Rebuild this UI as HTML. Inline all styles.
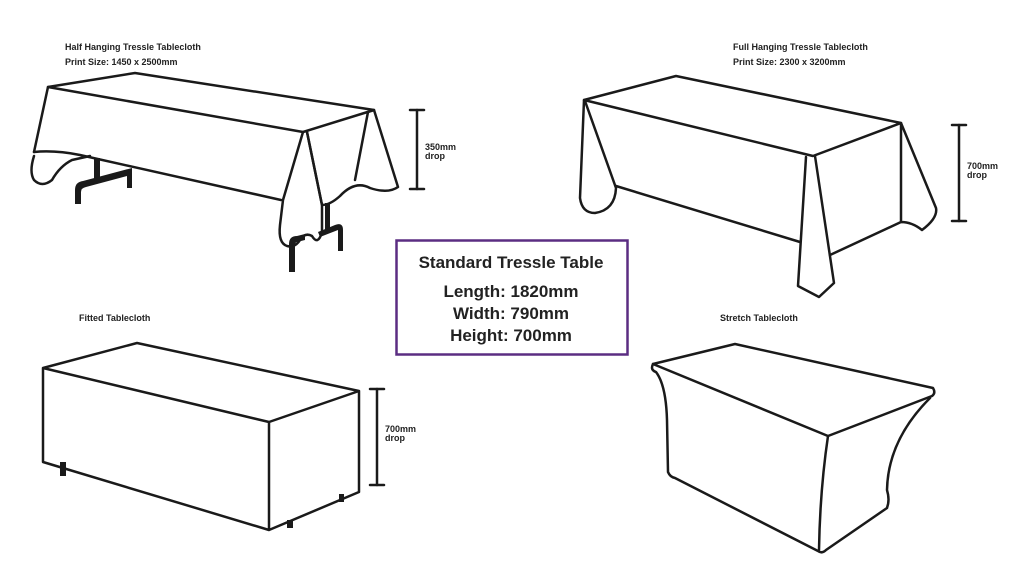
<!DOCTYPE html>
<html><head><meta charset="utf-8"><style>
html,body{margin:0;padding:0;background:#fff;}
svg{display:block;font-family:"Liberation Sans",Arial,sans-serif;}
</style></head><body>
<svg width="1024" height="572" viewBox="0 0 1024 572" xmlns="http://www.w3.org/2000/svg">
<rect width="1024" height="572" fill="#fff"/>
<g font-size="9" font-weight="bold" fill="#222">
<text x="65" y="50">Half Hanging Tressle Tablecloth</text>
<text x="65" y="65">Print Size: 1450 x 2500mm</text>
<text x="733" y="50">Full Hanging Tressle Tablecloth</text>
<text x="733" y="65">Print Size: 2300 x 3200mm</text>
<text x="79" y="321">Fitted Tablecloth</text>
<text x="720" y="321">Stretch Tablecloth</text>
<text x="425" y="150">350mm</text><text x="425" y="159">drop</text>
<text x="967" y="169">700mm</text><text x="967" y="178">drop</text>
<text x="385" y="432">700mm</text><text x="385" y="441">drop</text>
</g>
<g stroke="#1a1a1a" stroke-width="2.5" fill="none" stroke-linejoin="round" stroke-linecap="round">
<!-- half hanging legs -->
<g fill="#1a1a1a" stroke="none">
<rect x="94" y="158" width="6" height="22"/>
<path d="M75 204 L75 190 Q75 182 83 181 L132 168 L132 188 L127 188 L127 176 L86 187 Q81 188 81 192 L81 204Z"/>
<rect x="325" y="203" width="5" height="28"/>
<path d="M289 272 L289 244 Q289 236 297 236 L305 234 L305 240 L297 242 Q295 242 295 246 L295 272Z"/>
<path d="M318 232 L335 225 Q343 222 343 230 L343 251 L338 251 L338 230 L320 237Z"/>
</g>
<path d="M48 87 L135 73 L374 110 L303 132 Z" fill="#fff"/>
<path d="M48 87 L34 152"/>
<path d="M34 152 Q55 150 80 155 L281 200"/>
<path d="M34 156 Q29 172 34 180 Q42 188 52 180 Q60 166 72 160 L90 156"/>
<path d="M303 132 L283 200 L280 225 Q278 243 287 246 Q295 248 300 240 Q305 232 312 236 Q318 246 322 232 L322 205 L307 132"/>
<path d="M307 132 L322 205 Q330 205 340 196 Q355 180 370 188 Q388 194 398 187 L374 110 L368 112 L355 180"/>
<line x1="417" y1="110" x2="417" y2="189"/><line x1="410" y1="110" x2="424" y2="110"/><line x1="410" y1="189" x2="424" y2="189"/>
<!-- full hanging -->
<path d="M584 100 L676 76 L901 123 L813 156 Z"/>
<path d="M584 100 L580 198 Q582 213 595 213 Q615 210 616 188 L585 101"/>
<path d="M616 186 L800 242"/>
<path d="M806 157 L798 286 L819 297 L834 283 L815 156"/>
<path d="M830 255 L901 222 L901 123 L936 208 Q938 218 922 230 Q912 222 901 222"/>
<line x1="959" y1="125" x2="959" y2="221"/><line x1="952" y1="125" x2="966" y2="125"/><line x1="952" y1="221" x2="966" y2="221"/>
<!-- fitted -->
<g fill="#1a1a1a" stroke="none"><rect x="60" y="462" width="6" height="14"/><rect x="287" y="520" width="6" height="8"/><rect x="339" y="494" width="5" height="8"/></g>
<path d="M43 368 L137 343 L359 391 L269 422 Z M43 368 L43 462 L269 530 L359 492 L359 391 M269 422 L269 530"/>
<line x1="377" y1="389" x2="377" y2="485"/><line x1="370" y1="389" x2="384" y2="389"/><line x1="370" y1="485" x2="384" y2="485"/>
<!-- stretch -->
<path d="M653 364 L735 344 L933 388 Q936 393 932 396 L828 436 Z"/>
<path d="M653 364 Q650 370 656 372 Q666 385 667 420 L668 472 Q670 477 675 478 L818 551 Q822 554 826 550 L887 508 Q890 500 887 490 Q888 440 930 398"/>
<path d="M828 436 Q820 490 819 550"/>
</g>
<rect x="396.5" y="240.5" width="231" height="114" fill="none" stroke="#5b2d82" stroke-width="2.5"/>
<g font-weight="bold" fill="#222" text-anchor="middle">
<text x="511" y="268" font-size="17">Standard Tressle Table</text>
<text x="511" y="297" font-size="17">Length: 1820mm</text>
<text x="511" y="319" font-size="17">Width: 790mm</text>
<text x="511" y="341" font-size="17">Height: 700mm</text>
</g>
</svg>
</body></html>
